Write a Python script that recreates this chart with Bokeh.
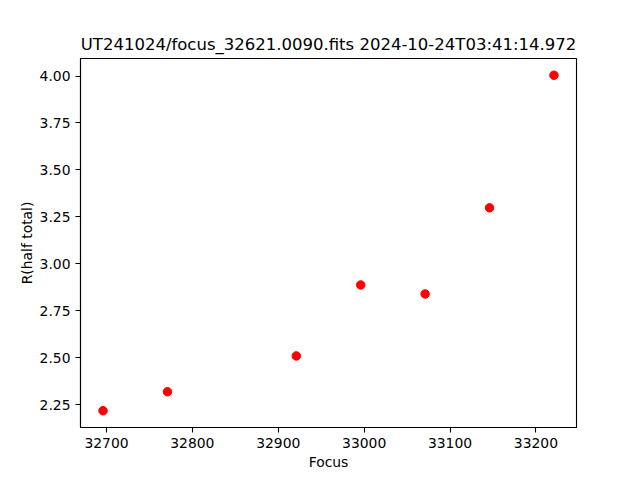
from bokeh.plotting import figure
from bokeh.models import FixedTicker, NumeralTickFormatter, Range1d
from bokeh.embed import file_html
from bokeh.resources import INLINE

# Data
focus = [32696, 32771, 32921, 32996, 33071, 33146, 33221]
r_half_total = [2.217, 2.318, 2.509, 2.887, 2.839, 3.298, 4.004]
x_ticks = [32700, 32800, 32900, 33000, 33100, 33200]
y_ticks = [2.25, 2.50, 2.75, 3.00, 3.25, 3.50, 3.75, 4.00]
title_text = "UT241024/focus_32621.0090.fits 2024-10-24T03:41:14.972"

xpad = (max(focus) - min(focus)) * 0.05
ypad = (max(r_half_total) - min(r_half_total)) * 0.05

p = figure(width=632, height=476, output_backend="svg", toolbar_location=None,
           x_range=Range1d(min(focus) - xpad, max(focus) + xpad),
           y_range=Range1d(min(r_half_total) - ypad, max(r_half_total) + ypad),
           min_border_left=80, min_border_right=56, min_border_top=58, min_border_bottom=49,
           title=title_text)

p.title.text_font = "DejaVu Sans"
p.title.text_font_size = "16.5px"
p.title.text_font_style = "normal"
p.title.text_color = "black"
p.title.align = "center"

p.scatter(focus, r_half_total, size=8.5, fill_color="red", line_color="red", marker="circle")

p.xgrid.visible = False
p.ygrid.visible = False
p.outline_line_color = "black"
p.outline_line_width = 1.1
p.outline_line_alpha = 1.0
p.background_fill_color = "white"
p.border_fill_color = "white"

p.xaxis.axis_label = "Focus"
p.yaxis.axis_label = "R(half total)"
p.xaxis.ticker = FixedTicker(ticks=x_ticks)
p.yaxis.ticker = FixedTicker(ticks=y_ticks)
p.xaxis.formatter = NumeralTickFormatter(format="0")
p.yaxis.formatter = NumeralTickFormatter(format="0.00")

for ax in (p.xaxis, p.yaxis):
    ax.axis_label_text_font = "DejaVu Sans"
    ax.axis_label_text_font_size = "13.9px"
    ax.axis_label_text_font_style = "normal"
    ax.axis_label_text_color = "black"
    ax.major_label_text_font = "DejaVu Sans"
    ax.major_label_text_font_size = "13.9px"
    ax.major_label_text_color = "black"
    ax.axis_line_color = "black"
    ax.axis_line_width = 1.1
    ax.major_tick_line_color = "black"
    ax.major_tick_line_width = 1.1
    ax.major_tick_out = 5
    ax.major_tick_in = 0
    ax.minor_tick_line_color = None
    ax.major_label_standoff = 5

p.xaxis.axis_label_standoff = 3
p.yaxis.axis_label_standoff = 2

open("out.html", "w").write(file_html(p, INLINE))
